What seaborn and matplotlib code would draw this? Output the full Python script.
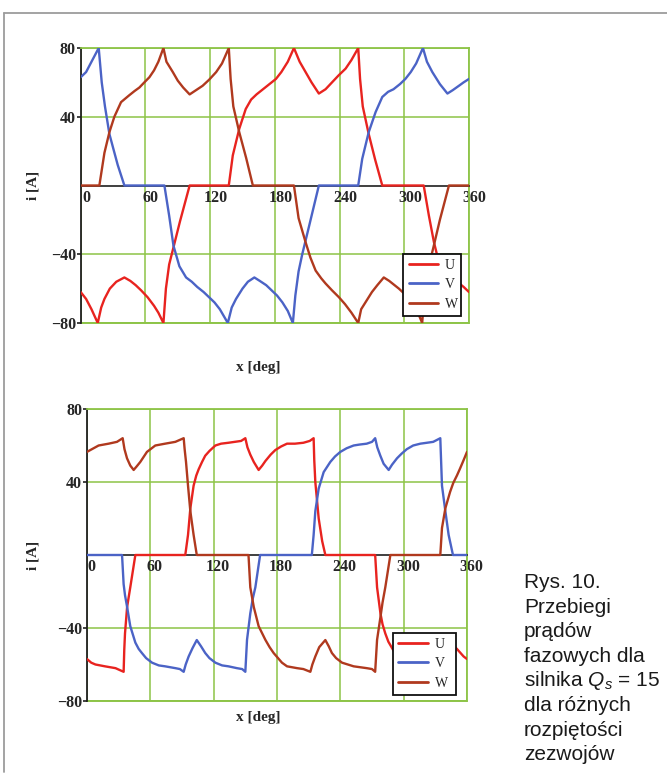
import pandas as pd
import matplotlib
matplotlib.use("Agg")
import matplotlib.pyplot as plt
from matplotlib.lines import Line2D
from matplotlib.transforms import ScaledTranslation
import seaborn as sns

sns.set_theme(style="white")
plt.rcParams["font.family"] = ["Liberation Serif", "DejaVu Serif"]
plt.rcParams["mathtext.fontset"] = "custom"
plt.rcParams["mathtext.rm"] = "Liberation Sans"
plt.rcParams["mathtext.it"] = "Liberation Sans:italic"

phases = ["U", "V", "W"]
x_ticks = [0, 60, 120, 180, 240, 300, 360]
y_ticks = [-80, -40, 40, 80]
caption = ["Rys. 10.", "Przebiegi", "prądów", "fazowych dla",
           "silnika $Q_s$ = 15", "dla różnych", "rozpiętości", "zezwojów"]

# ---- upper panel: phase currents i [A] vs angle x [deg] ----
u1_x = [0, 5, 10, 15.8, 19, 22, 27, 33, 40.5, 46, 51, 56, 62, 68, 72, 76.7, 79, 82, 86, 92, 101,
        137.3, 141, 147, 153, 158, 163, 169, 175, 181, 186, 192, 197.7, 203, 208.5, 214, 220.8,
        227, 233, 239, 245.6, 251, 257.3, 259, 261.5, 267, 273, 279.6,
        318, 322.8, 327.5, 332, 337, 343, 349, 355, 360]
u1_y = [-62, -66, -72, -80, -71, -66, -60, -56, -53.5, -55.5, -58, -61, -65, -70, -74, -80, -60, -46, -36, -21, 0,
        0, 17.5, 33, 44.5, 50, 53, 56, 59, 62, 66, 72, 80, 72, 66, 60, 53.5,
        56, 60, 64, 68, 73, 80, 62, 46, 30, 15, 0,
        0, -17.5, -33, -44.5, -50, -53, -56, -59, -62]

v1_x = [0, 5, 10, 16.7, 19.5, 22.5, 26.6, 30, 34.3, 40.5,
        77.6, 82, 86, 91.5, 97.7, 103, 108, 114, 119, 124, 129, 136.4,
        140, 144, 150, 155, 161, 166, 172, 177, 182, 187, 192, 196.7,
        199, 202, 205.4, 211.6, 220.8,
        257.3, 261, 267, 273.4, 279.6, 285, 290, 296, 301, 306, 311, 317.3,
        321, 326, 333, 340, 345, 350.6, 355, 360]
v1_y = [63, 66, 72, 80, 60, 46, 30, 22, 12, 0,
        0, -17.5, -35, -47, -53.5, -56, -59, -62, -65, -68, -72, -80,
        -71, -66, -60, -56, -53.5, -55.5, -58, -61, -64, -68, -73, -80,
        -64, -50, -40, -24, 0,
        0, 15.5, 31, 42.7, 51.5, 54.5, 56, 59, 62, 66, 71, 80,
        72, 66, 59, 53.5, 55.5, 58, 60, 62]

w1_x = [0, 17.3, 22, 26.6, 31.2, 37.4, 45, 50, 54.4, 59, 63.7, 68, 72, 76.7,
        79.5, 85.4, 90, 95, 101, 107, 113, 119, 125.6, 131, 137.3,
        139, 141.5, 147, 153.4, 159.6,
        197.7, 202, 208.5, 213, 217.8, 223, 227, 233, 239.4, 245, 251, 257.3,
        260, 264, 270, 275, 281, 286, 291, 295, 301, 307, 312, 316.6,
        318.5, 321.5, 327, 333, 341.4, 360]
w1_y = [0, 0, 19, 31, 40, 48.5, 52.5, 55, 57, 60, 63, 67, 72, 80,
        72, 66, 61, 57, 53, 55.5, 58, 61.5, 66, 71, 80,
        62, 46, 31, 16, 0,
        0, -19, -33, -42, -49.5, -54, -57, -61, -65, -69, -74, -80,
        -72, -68, -62, -58, -53.5, -55.5, -58, -60, -63.5, -68, -73, -80,
        -64, -50, -36, -20, 0, 0]

# ---- lower panel ----
u2_x = [0, 4, 8, 17, 27, 34.7, 35.3, 36, 38, 41, 45.8,
        93.1, 95.7, 97.9, 101, 103.5, 105.8, 109, 112, 116, 121.6, 127, 134, 140, 146, 150,
        152, 154.7, 158, 162.6, 166, 169, 174, 178.4, 184, 189.5, 197, 205, 211, 214.7,
        215.3, 216.3, 219.5, 222.8, 225.8,
        273, 274.8, 278, 280, 282.6, 285.5, 289, 293, 298, 303, 310, 317, 324, 330,
        332, 334.5, 338, 342.5, 346, 350.5, 356.8, 360]
u2_y = [-57, -59, -60, -61, -62, -64, -52, -43, -28.5, -17.7, 0,
        0, 11, 25.6, 38, 43.5, 47, 51, 54.4, 57, 60, 61, 61.5, 62, 62.5, 64,
        59, 55, 51, 46.6, 49, 51.5, 55, 57.5, 59.5, 61, 61, 61.5, 62.5, 64,
        52, 40, 20, 7.6, 0,
        0, -17.7, -32, -38, -43, -47.5, -51, -55, -57.5, -60, -61, -61.5, -62.5, -64,
        -59, -55, -51, -46.6, -49, -51.5, -55.6, -57]

v2_x = [0, 33.2, 34.7, 36, 38, 41, 45.8, 49, 52, 56, 61.6, 68, 74, 83.7, 88, 91.6,
        93.5, 96.3, 100, 104, 108, 112, 116, 121.6, 128, 134, 142, 147, 150,
        151.6, 154.7, 157, 159.5, 164,
        213, 214.7, 216.3, 219.5, 224.2, 230.5, 235, 240, 246, 252.6, 258, 265, 270, 273,
        275, 277.9, 281, 285.8, 289, 293.7, 298, 303, 309, 315.8, 322, 328, 334.7,
        336.3, 339.5, 342.6, 346.7, 360]
v2_y = [0, 0, -16, -22, -28.5, -39, -48, -51.5, -53.7, -56.5, -59, -60.5, -61, -62, -62.5, -64,
        -60, -55.6, -51, -46.6, -50, -53.7, -56.5, -59, -60.5, -61, -62, -62.5, -64,
        -46.5, -32, -24, -17.7, 0,
        0, 11, 24, 36.4, 45.4, 51, 54, 56.5, 58.5, 60, 60.5, 61, 62, 64,
        59, 54.4, 50, 46.6, 49.5, 53, 55.5, 58, 60, 61, 61.5, 62, 64,
        38, 24, 11, 0, 0]

w2_x = [0, 4.7, 11, 20.5, 28.4, 33.8, 35.5, 37.9, 41, 44.2, 47, 50.5, 56.8, 64.7, 74, 83.7, 91.6,
        92.5, 93.8, 95.7, 97.9, 101, 104,
        153, 154.7, 158, 162.6, 169, 173, 176.8, 184.7, 189.5, 199, 205, 211.6,
        213.5, 216.3, 220, 225.8, 229, 232, 236, 241.6, 252.6, 265, 270, 273,
        274.8, 278, 280, 282.6, 287.4,
        334.7, 336.3, 339.5, 344, 347, 350.5, 353.5, 356.8, 360]
w2_y = [56.5, 58, 60, 61, 62, 64, 58, 53, 49, 46.6, 48.5, 51, 56.5, 60, 61, 62, 64,
        58, 51, 38, 24, 11, 0,
        0, -17.7, -28.5, -39, -46.5, -50.5, -53.7, -59, -61, -62, -62.5, -64,
        -60, -55.6, -50.5, -46.6, -50, -53.7, -56.5, -59, -61, -62, -62.5, -64,
        -46.5, -34, -26, -17.7, 0,
        0, 14.8, 25.6, 34.6, 39.5, 43.6, 47.5, 52, 56.5]

palette = {"U": "#e8231f", "V": "#4b63c6", "W": "#b0391e"}
grid_green = "#8dc447"
W_PX, H_PX = 667, 776


def long_frame(series):
    parts = []
    for name, (xs, ys) in zip(phases, series):
        parts.append(pd.DataFrame({"x": xs, "i": ys, "faza": name}))
    return pd.concat(parts, ignore_index=True)


def panel(ax, df, legend_box, x_shift_pt):
    sns.lineplot(data=df, x="x", y="i", hue="faza", palette=palette,
                 estimator=None, sort=False, linewidth=1.7, ax=ax)
    # current traces sit above the zero axis line
    for line in ax.lines:
        line.set_zorder(3)
    ax.set_xlim(0, 360)
    ax.set_ylim(-80, 80)
    ax.set_xticks(x_ticks)
    ax.set_yticks(y_ticks)
    ax.set_xticklabels([str(t) for t in x_ticks])
    ax.set_yticklabels(["\u221280", "\u221240", "40", "80"])
    ax.grid(True, color=grid_green, linewidth=1.1)
    ax.set_axisbelow(True)
    ax.set_xlabel("")
    ax.set_ylabel("")
    ax.axhline(-80, color=grid_green, linewidth=1.4, clip_on=False, zorder=0.5)
    for side in ("top", "right"):
        ax.spines[side].set_color(grid_green)
        ax.spines[side].set_linewidth(1.3)
    ax.spines["left"].set_color("#202020")
    ax.spines["left"].set_linewidth(1.3)
    ax.spines["bottom"].set_position(("data", 0))
    ax.spines["bottom"].set_color("#303030")
    ax.spines["bottom"].set_linewidth(1.3)
    ax.tick_params(axis="x", length=0, pad=3, labelsize=11.5)
    ax.tick_params(axis="y", length=3, width=1.2, direction="out", pad=0.5,
                   labelsize=11.5, left=True, color="#202020")
    for lab in ax.get_xticklabels() + ax.get_yticklabels():
        lab.set_fontweight("bold")
    shift = ScaledTranslation(x_shift_pt / 72, 0, ax.figure.dpi_scale_trans)
    for lab in ax.get_xticklabels():
        lab.set_transform(lab.get_transform() + shift)
    handles, labels = ax.get_legend_handles_labels()
    leg = ax.legend(handles, labels, loc="lower left", bbox_to_anchor=legend_box,
                    mode="expand", borderaxespad=0, fontsize=10, handlelength=2.1,
                    handletextpad=0.5, labelspacing=0.45, borderpad=0.4,
                    frameon=True, fancybox=False, framealpha=1)
    leg.set_zorder(5)
    leg.get_frame().set_edgecolor("#101010")
    leg.get_frame().set_linewidth(1.3)
    for line in leg.get_lines():
        line.set_linewidth(2.0)


fig = plt.figure(figsize=(W_PX / 100, H_PX / 100), dpi=100)
ax_top = fig.add_axes([80.7 / W_PX, 1 - 323 / H_PX, 388.3 / W_PX, 275 / H_PX])
ax_bot = fig.add_axes([87 / W_PX, 1 - 701 / H_PX, 380 / W_PX, 292 / H_PX])

panel(ax_top, long_frame([(u1_x, u1_y), (v1_x, v1_y), (w1_x, w1_y)]),
      (0.830, 0.025, 0.149, 0.222), 4)
panel(ax_bot, long_frame([(u2_x, u2_y), (v2_x, v2_y), (w2_x, w2_y)]),
      (0.805, 0.020, 0.166, 0.230), 3)

# axis titles
for y_lab, y_ax in ((367, 185), (718, 555)):
    fig.text(258 / W_PX, 1 - y_lab / H_PX, "x [deg]", ha="center", va="center",
             fontsize=11, fontweight="bold")
    fig.text(33 / W_PX, 1 - y_ax / H_PX, "i [A]", ha="center", va="center",
             rotation=90, fontsize=11, fontweight="bold")

# caption block
for k, line in enumerate(caption):
    fig.text(524 / W_PX, 1 - (588 + 24.6 * k) / H_PX, line, ha="left", va="baseline",
             fontsize=15, family=["Liberation Sans", "DejaVu Sans"], color="#1a1a1a")

# page frame
fig.add_artist(Line2D([4 / W_PX, 1], [1 - 12.5 / H_PX] * 2, transform=fig.transFigure,
                      color="#9c9c9c", linewidth=1.3))
fig.add_artist(Line2D([4 / W_PX] * 2, [1 - 12.5 / H_PX, 1 - 772 / H_PX],
                      transform=fig.transFigure, color="#9c9c9c", linewidth=1.3))

fig.savefig("out.png", dpi=100)
